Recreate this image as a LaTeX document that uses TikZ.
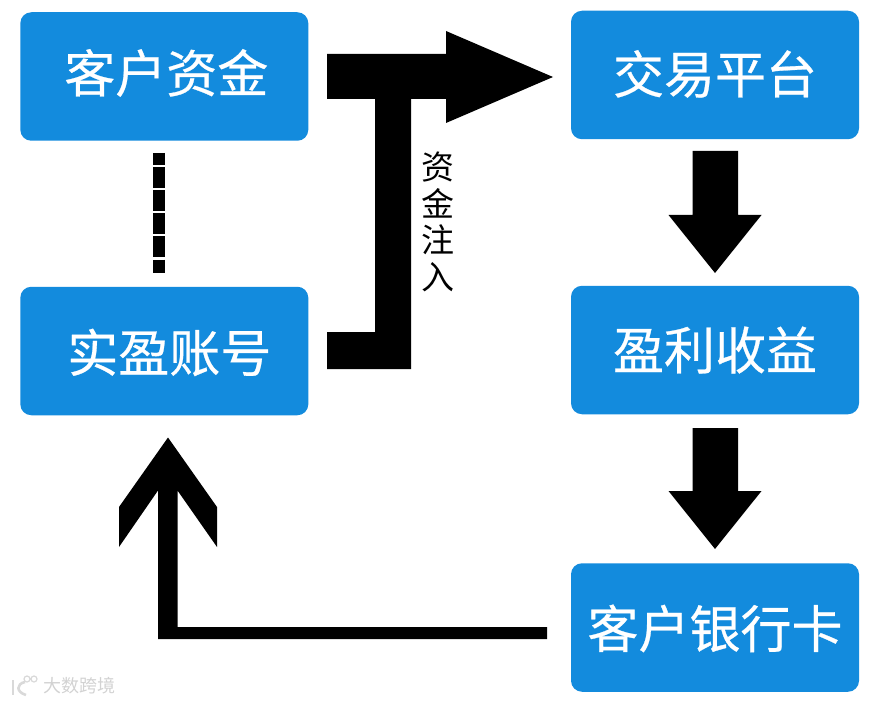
\documentclass[tikz,border=0pt]{standalone}
\usepackage{fontspec}
\setmainfont{Noto Sans CJK SC}
\newfontfamily\boxfont[FakeBold=0.5]{Noto Sans CJK SC}
\usepackage{tikz}
\usetikzlibrary{positioning}
\definecolor{boxblue}{RGB}{19,139,221}
\newcommand{\boxtext}[3]{\hspace*{#1}\smash{\raisebox{#2}{#3}}}
\tikzset{
  box/.style={fill=boxblue,text=white,rounded corners=11pt,minimum width=288pt,minimum height=128.5pt,inner sep=0pt,text height=45pt,text depth=6.2pt,font=\boxfont\fontsize{51}{51}\selectfont},
  arrowshape/.style={fill=black,draw=none},
  logoline/.style={draw=gray!30,line width=2.6pt},
}

\begin{document}
\begin{tikzpicture}[x=1pt,y=-1pt]

\useasboundingbox (0,0) rectangle (877,703);

\node[box] (KHZJ) at (164.3,76.5) {\boxtext{4pt}{3.5pt}{客户资金}};
\node[box] (SYZH) at (164.3,351) {\boxtext{10pt}{-1.5pt}{实盈账号}};
\node[box] (JYPT) at (715,75) {\boxtext{0pt}{1pt}{交易平台}};
\node[box] (YLSY) at (715,350) {\boxtext{0pt}{0pt}{盈利收益}};
\node[box] (YHK) at (715,627.5) {\boxtext{0pt}{-1pt}{客户银行卡}};

% left dashes
\coordinate (dashtop) at (159,153);
\coordinate (dashbot) at (159,273);
\draw[line width=12pt,dash pattern=on 20.8pt off 2.2pt,dash phase=8.5pt] (dashtop) -- (dashbot);

% fund arrow
\fill[arrowshape] (327,54) -- (446,54) -- (446,31) -- (553,77) -- (446,123) -- (446,99)
  -- (411,99) -- (411,369) -- (327,369) -- (327,332) -- (375,332) -- (375,99) -- (327,99) -- cycle;
\node[font=\fontsize{33}{36.5}\selectfont,align=center,inner sep=0pt] (ZJZR) at (438,222) {资\\金\\注\\入};

% down arrows
\fill[arrowshape] (692.5,151) -- (738,151) -- (738,215) -- (761.5,215) -- (715,273) -- (668.5,215) -- (692.5,215) -- cycle;
\fill[arrowshape] (692.5,428) -- (738,428) -- (738,491) -- (761.5,491) -- (715,549) -- (668.5,491) -- (692.5,491) -- cycle;

% return arrow
\fill[arrowshape] (547,627) -- (547,639) -- (158,639) -- (158,490.5) -- (119,547) -- (119,507) -- (168,437.5)
  -- (217,507) -- (217,547) -- (177.5,490.5) -- (177.5,627) -- cycle;

% watermark
\draw[logoline] (13,680) -- (13,695);
\draw[logoline] (25,682) .. controls (16,684) and (16,692) .. (26,695);
\draw[gray!30,line width=1.2pt] (27,679) circle (3pt) (34,679) circle (3pt);
\node[text=gray!35,font=\fontsize{18}{18}\selectfont,inner sep=0pt] (MARK) at (79,686) {大数跨境};

\end{tikzpicture}
\end{document}
